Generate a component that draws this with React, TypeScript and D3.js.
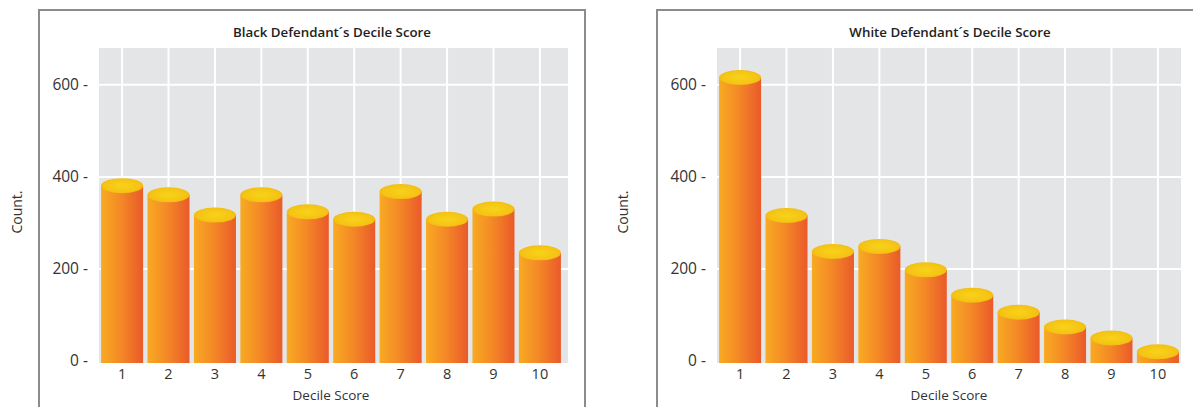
import React from "react";
import * as d3 from "d3";

// Decile categories and counts per group
const deciles = ["1", "2", "3", "4", "5", "6", "7", "8", "9", "10"];
const blackCounts = [381, 361, 317, 361, 324, 308, 368, 308, 330, 235];
const whiteCounts = [616, 316, 238, 249, 198, 143, 106, 74, 50, 20];
const yTicks = [0, 200, 400, 600];
const blackTitle = "Black Defendant\u00b4s Decile Score";
const whiteTitle = "White Defendant\u00b4s Decile Score";
const xTitle = "Decile Score";
const yTitle = "Count.";

const W = 1193;
const H = 407;
const FONT = "'Open Sans', 'Noto Sans', sans-serif";

const plotTop = 48;
const plotBottom = 363;
const y = d3.scaleLinear().domain([0, 680]).range([361, plotTop]);

type PanelProps = {
  id: string;
  frameX: number;
  frameW: number;
  plotLeft: number;
  plotRight: number;
  grayRight: number;
  yTitleX: number;
  title: string;
  values: number[];
};

function Panel({ id, frameX, frameW, plotLeft, plotRight, grayRight, yTitleX, title, values }: PanelProps) {
  const x = d3.scaleBand<string>().domain(deciles).range([plotLeft, plotRight]).paddingInner(0.095).paddingOuter(0.045);
  const bw = x.bandwidth();
  const ry = 7.5;
  const cx = (plotLeft + plotRight) / 2;
  return (
    <g>
      <defs>
        <linearGradient id={`${id}-body`} x1="0" x2="1" y1="0" y2="0">
          <stop offset="0%" stopColor="#f8aa22" />
          <stop offset="45%" stopColor="#f48a26" />
          <stop offset="100%" stopColor="#ea5a2a" />
        </linearGradient>
        <radialGradient id={`${id}-top`} cx="0.5" cy="0.5" r="0.6">
          <stop offset="0%" stopColor="#f8d21a" />
          <stop offset="70%" stopColor="#f5c414" />
          <stop offset="100%" stopColor="#efb012" />
        </radialGradient>
      </defs>
      {/* panel frame */}
      <rect x={frameX} y={10} width={frameW} height={H + 20} fill="#fff" stroke="#8c8c8c" strokeWidth={2} />
      <text x={cx + 1} y={37} textAnchor="middle" fontFamily={FONT} fontSize={13.3} fontWeight={600} fill="#222">
        {title}
      </text>
      {/* plot background */}
      <rect x={plotLeft} y={plotTop} width={grayRight - plotLeft} height={plotBottom - plotTop} fill="#e3e5e7" />
      {/* grid */}
      {yTicks.filter((t) => t > 0).map((t) => (
        <line key={`h${t}`} x1={plotLeft} x2={grayRight} y1={y(t)} y2={y(t)} stroke="#fff" strokeWidth={2} />
      ))}
      {deciles.map((d) => (
        <line key={`v${d}`} x1={x(d)! + bw / 2} x2={x(d)! + bw / 2} y1={plotTop} y2={plotBottom} stroke="#fff" strokeWidth={2} />
      ))}
      {/* cylinders */}
      {values.map((v, i) => {
        const x0 = x(deciles[i])!;
        const cy = y(v);
        return (
          <g key={i}>
            <rect x={x0} y={cy} width={bw} height={plotBottom - cy} fill={`url(#${id}-body)`} />
            <ellipse cx={x0 + bw / 2} cy={cy} rx={bw / 2} ry={ry} fill={`url(#${id}-top)`} />
          </g>
        );
      })}
      {/* y axis labels */}
      {yTicks.map((t) => (
        <text key={`yt${t}`} x={plotLeft - 11} y={y(t)} dy="0.35em" textAnchor="end" fontFamily={FONT} fontSize={15.5} fill="#333">
          {`${t} -`}
        </text>
      ))}
      {/* x axis labels */}
      {deciles.map((d) => (
        <text key={`xt${d}`} x={x(d)! + bw / 2} y={379} textAnchor="middle" fontFamily={FONT} fontSize={14.5} fill="#333">
          {d}
        </text>
      ))}
      <text x={cx} y={400} textAnchor="middle" fontFamily={FONT} fontSize={13.5} fill="#333">
        {xTitle}
      </text>
      <text transform={`translate(${yTitleX},212) rotate(-90)`} textAnchor="middle" dy="0.35em" fontFamily={FONT} fontSize={14} fill="#333">
        {yTitle}
      </text>
    </g>
  );
}

export default function App() {
  return (
    <svg width={W} height={H} style={{ position: "absolute", left: 0, top: 0, background: "#fff" }}>
      <rect width={W} height={H} fill="#fff" />
      <Panel id="blk" frameX={39} frameW={546} plotLeft={99} plotRight={563} grayRight={568} yTitleX={17} title={blackTitle} values={blackCounts} />
      <Panel id="wht" frameX={657} frameW={600} plotLeft={717} plotRight={1181} grayRight={1181} yTitleX={623} title={whiteTitle} values={whiteCounts} />
    </svg>
  );
}
